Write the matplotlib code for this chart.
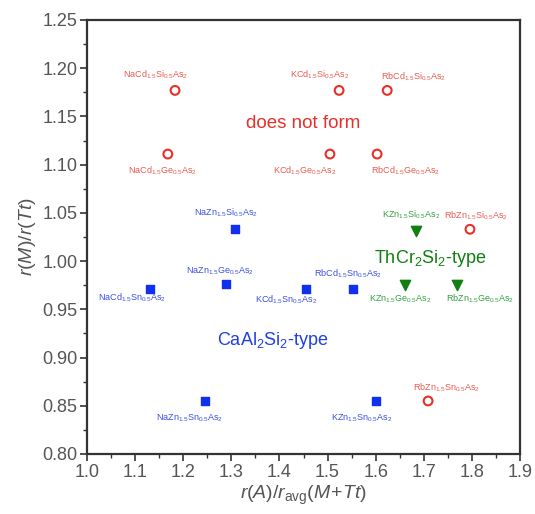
import numpy as np
import matplotlib
matplotlib.use('Agg')
import matplotlib.pyplot as plt
from matplotlib.ticker import MultipleLocator

plt.rcParams['font.family'] = ['Liberation Sans', 'DejaVu Sans']
plt.rcParams['mathtext.fontset'] = 'custom'
plt.rcParams['mathtext.rm'] = 'Liberation Sans'
plt.rcParams['mathtext.it'] = 'Liberation Sans:italic'

# compounds that do not form (open red circles)
nf_names = ['NaCd$_{1.5}$Si$_{0.5}$As$_2$', 'KCd$_{1.5}$Si$_{0.5}$As$_2$', 'RbCd$_{1.5}$Si$_{0.5}$As$_2$',
            'NaCd$_{1.5}$Ge$_{0.5}$As$_2$', 'KCd$_{1.5}$Ge$_{0.5}$As$_2$', 'RbCd$_{1.5}$Ge$_{0.5}$As$_2$',
            'RbZn$_{1.5}$Si$_{0.5}$As$_2$', 'RbZn$_{1.5}$Sn$_{0.5}$As$_2$']
nf_x = [1.183, 1.524, 1.624, 1.168, 1.505, 1.603, 1.796, 1.709]
nf_y = [1.177, 1.177, 1.177, 1.111, 1.111, 1.111, 1.033, 0.855]

# CaAl2Si2-type (blue squares)
ca_names = ['NaZn$_{1.5}$Si$_{0.5}$As$_2$', 'NaZn$_{1.5}$Ge$_{0.5}$As$_2$', 'NaCd$_{1.5}$Sn$_{0.5}$As$_2$',
            'KCd$_{1.5}$Sn$_{0.5}$As$_2$', 'RbCd$_{1.5}$Sn$_{0.5}$As$_2$',
            'NaZn$_{1.5}$Sn$_{0.5}$As$_2$', 'KZn$_{1.5}$Sn$_{0.5}$As$_2$']
ca_x = [1.308, 1.289, 1.131, 1.455, 1.553, 1.245, 1.601]
ca_y = [1.033, 0.976, 0.971, 0.971, 0.971, 0.855, 0.855]

# ThCr2Si2-type (green triangles)
th_names = ['KZn$_{1.5}$Si$_{0.5}$As$_2$', 'KZn$_{1.5}$Ge$_{0.5}$As$_2$', 'RbZn$_{1.5}$Ge$_{0.5}$As$_2$']
th_x = [1.684, 1.661, 1.769]
th_y = [1.031, 0.975, 0.975]

# label offsets (pixels)
nf_off = [(-20, 16), (-19, 16), (26, 14), (-5, -17), (-25, -17), (28, -17), (6, 14), (18, 13)]
ca_off = [(-9, 17), (-6, 14), (-18, -9), (-20, -11), (-5, 15), (-15, -17), (-14, -17)]
th_off = [(-5, 16), (-5, -14), (23, -14)]

red = '#e8302a'
blue = '#1030f0'
green = '#108010'

fig = plt.figure(figsize=(5.35, 5.14), dpi=100)
ax = fig.add_axes([87/535, 60/514, 433/535, 434/514])

ax.scatter(nf_x, nf_y, s=40, marker='o', facecolors='none', edgecolors=red, linewidths=1.5, zorder=3)
ax.scatter(ca_x, ca_y, s=40, marker='s', color=blue, zorder=3)
ax.scatter(th_x, th_y, s=55, marker='v', color=green, zorder=3)

for names, xs, ys, offs, c in [(nf_names, nf_x, nf_y, nf_off, '#e85a50'),
                               (ca_names, ca_x, ca_y, ca_off, '#3c50e0'),
                               (th_names, th_x, th_y, th_off, '#30a040')]:
    for n, x, y, o in zip(names, xs, ys, offs):
        ax.annotate(n, (x, y), xytext=o, textcoords='offset pixels',
                    ha='center', va='center', fontsize=6.5, color=c)

ax.text(1.449, 1.143, 'does not form', color=red, fontsize=13.5, ha='center', va='center')
ax.text(1.713, 1.003, 'ThCr$_2$Si$_2$-type', color=green, fontsize=13, ha='center', va='center')
ax.text(1.387, 0.918, 'CaAl$_2$Si$_2$-type', color='#2040e0', fontsize=13, ha='center', va='center')

ax.set_xlim(1.0, 1.9)
ax.set_ylim(0.80, 1.25)
ax.xaxis.set_major_locator(MultipleLocator(0.1))
ax.xaxis.set_minor_locator(MultipleLocator(0.05))
ax.yaxis.set_major_locator(MultipleLocator(0.05))
ax.yaxis.set_minor_locator(MultipleLocator(0.025))
ax.xaxis.set_major_formatter(plt.FormatStrFormatter('%.1f'))
ax.yaxis.set_major_formatter(plt.FormatStrFormatter('%.2f'))
ax.tick_params(which='major', direction='out', length=5, width=1.2, labelsize=13, colors='#333333', labelcolor='#555555', pad=2)
ax.tick_params(which='minor', direction='out', length=3, width=1.0, colors='#333333')
for s in ax.spines.values():
    s.set_linewidth(1.6)
    s.set_color('#333333')

ax.set_xlabel('$r(A)/r_{\\mathrm{avg}}(M\\!+\\!Tt)$', fontsize=14, color='#555555', labelpad=2)
ax.set_ylabel('$r(M)/r(Tt)$', fontsize=14, color='#555555', labelpad=3)

fig.savefig('out.png', dpi=100)
